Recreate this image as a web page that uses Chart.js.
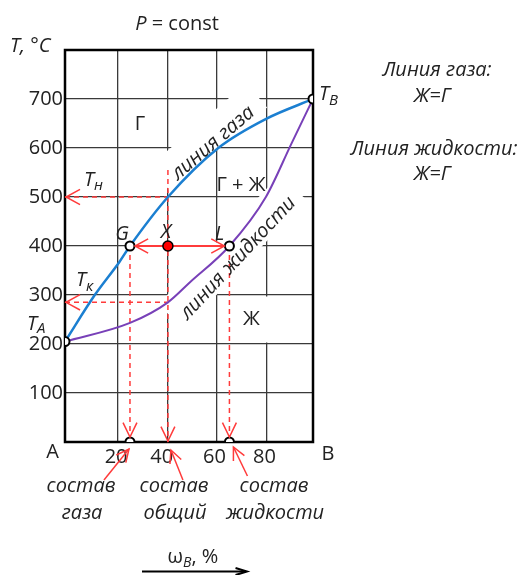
<!DOCTYPE html>
<html>
<head>
<meta charset="utf-8">
<script src="https://cdn.jsdelivr.net/npm/chart.js@4.4.1/dist/chart.umd.min.js"></script>
<style>
  html, body { margin: 0; padding: 0; background: #fff; }
</style>
</head>
<body>
<canvas id="chart" width="527" height="575"></canvas>
<script>
// phase diagram A-B at P = const: composition (% B) vs temperature (°C)
const gasX = [0, 12, 22, 26.2, 41.5, 61.8, 81.3, 100];
const gasT = [205, 300, 368, 400, 500, 600, 660, 700];
const liqX = [0, 26.2, 41.5, 50.4, 66.3, 81, 91.4, 100];
const liqT = [205, 243, 285, 326, 400, 500, 610, 700];

// tie line at T = 400: gas G, overall X, liquid L
const tieT = 400;
const gX = 26.2, xX = 41.5, lX = 66.3;
const tN = 500, tK = 285, tA = 205, tB = 700;

// axes
const yMin = 0, yMax = 800, yStep = 100;
const xGrid = [21.4, 41.5, 61.3, 81.5];
const xTickPos = [20.6, 39, 60.3, 80.4];
const xTickLabels = ['20', '40', '60', '80'];

const RED = '#ff3b3b';
const FONT = "'Open Sans', sans-serif";
Chart.defaults.font.family = FONT;

const pts = (xs, ys) => xs.map((v, i) => ({ x: v, y: ys[i] }));
const dashed = (data) => ({
  data, showLine: true, borderColor: RED, borderWidth: 1.5, borderDash: [5, 4],
  pointRadius: 0, fill: false
});

// slanted labels along the curves
const slanted = [
  { t: 'линия газа', cx: 213, cy: 143, angle: -40.5, w: 128, h: 32, bx: -5, by: -6 },
  { t: 'линия жидкости', cx: 238, cy: 258, angle: -47, w: 178, h: 36, bx: -6, by: -6 }
];

function runs(ctx, parts, x, y, align) {
  const fontOf = p => `${p.it ? 'italic ' : ''}${p.size || 20}px ${FONT}`;
  let w = 0;
  for (const p of parts) { ctx.font = fontOf(p); w += ctx.measureText(p.t).width; }
  let cx = align === 'center' ? x - w / 2 : x;
  for (const p of parts) {
    ctx.font = fontOf(p);
    ctx.fillText(p.t, cx, y + (p.dy || 0));
    cx += ctx.measureText(p.t).width;
  }
}

function head(ctx, tx, ty, fx, fy, len, spread) {
  const a = Math.atan2(ty - fy, tx - fx);
  ctx.beginPath();
  ctx.moveTo(tx - len * Math.cos(a - spread), ty - len * Math.sin(a - spread));
  ctx.lineTo(tx, ty);
  ctx.lineTo(tx - len * Math.cos(a + spread), ty - len * Math.sin(a + spread));
  ctx.stroke();
}

const annot = {
  id: 'annot',
  beforeDatasetsDraw(chart) {
    const { ctx, chartArea: ca, scales: { x, y } } = chart;
    ctx.save();
    ctx.fillStyle = '#fff';
    // white box behind "Ж"
    const l = x.getPixelForValue(xGrid[2]) + 1.5, r = x.getPixelForValue(100) - 1.5;
    const t = y.getPixelForValue(300) + 1.5, b = y.getPixelForValue(200) - 1.5;
    ctx.fillRect(l, t, r - l, b - t);
    for (const s of slanted) {
      ctx.save();
      ctx.translate(s.cx + s.bx, s.cy + s.by);
      ctx.rotate(s.angle * Math.PI / 180);
      ctx.fillRect(-s.w / 2, -s.h / 2, s.w, s.h);
      ctx.restore();
    }
    // plot frame
    ctx.strokeStyle = '#000';
    ctx.lineWidth = 2.5;
    ctx.strokeRect(ca.left, ca.top, ca.right - ca.left, ca.bottom - ca.top);
    ctx.restore();
  },
  afterDatasetsDraw(chart) {
    const { ctx, scales: { x, y } } = chart;
    const px = v => x.getPixelForValue(v), py = v => y.getPixelForValue(v);
    ctx.save();
    ctx.setLineDash([]);
    ctx.strokeStyle = RED;
    ctx.lineWidth = 1.5;
    // arrowheads on dashed / tie lines
    head(ctx, px(0) + 1, py(tN), px(0) + 20, py(tN), 16, 0.5);
    head(ctx, px(0) + 1, py(tK), px(0) + 20, py(tK), 16, 0.5);
    head(ctx, px(gX), py(0) - 5, px(gX), py(0) - 30, 16, 0.45);
    head(ctx, px(xX), py(0) - 1, px(xX), py(0) - 30, 16, 0.45);
    head(ctx, px(lX), py(0) - 5, px(lX), py(0) - 30, 16, 0.45);
    head(ctx, px(gX) + 5, py(tieT), px(xX), py(tieT), 15, 0.5);
    head(ctx, px(lX) - 5, py(tieT), px(xX), py(tieT), 15, 0.5);
    // arrows from composition captions
    const caps = [[px(gX) - 1, py(0) + 7, -25, 31], [px(xX) + 3, py(0) + 8, 12, 30], [px(lX) + 4, py(0) + 5, 14, 29]];
    for (const [tx, ty, dx, dy] of caps) {
      ctx.beginPath(); ctx.moveTo(tx + dx, ty + dy); ctx.lineTo(tx, ty); ctx.stroke();
      head(ctx, tx, ty, tx + dx, ty + dy, 14, 0.45);
    }

    // texts
    ctx.fillStyle = '#222';
    ctx.textAlign = 'left';
    ctx.textBaseline = 'alphabetic';
    runs(ctx, [{ t: 'P', it: true }, { t: ' = const' }], 177, 30, 'center');
    runs(ctx, [{ t: 'T, °C', it: true }], 10, 52);
    runs(ctx, [{ t: 'Линия газа:', it: true }], 437, 76, 'center');
    runs(ctx, [{ t: 'Ж=Г', it: true }], 432, 102, 'center');
    runs(ctx, [{ t: 'Линия жидкости:', it: true }], 434, 155, 'center');
    runs(ctx, [{ t: 'Ж=Г', it: true }], 432, 180, 'center');

    runs(ctx, [{ t: 'Г' }], 140, 130, 'center');
    runs(ctx, [{ t: 'Г + Ж' }], 241, 191, 'center');
    runs(ctx, [{ t: 'Ж' }], 251.5, 325, 'center');

    runs(ctx, [{ t: 'G', it: true }], px(gX) - 8, py(tieT) - 6, 'center');
    runs(ctx, [{ t: 'X', it: true }], px(xX) - 2, py(tieT) - 8, 'center');
    runs(ctx, [{ t: 'L', it: true }], px(lX) - 10, py(tieT) - 6, 'center');

    runs(ctx, [{ t: 'T', it: true }, { t: 'н', it: true, size: 15, dy: 4 }], 84, py(tN) - 11);
    runs(ctx, [{ t: 'T', it: true }, { t: 'к', it: true, size: 15, dy: 5 }], 76, py(tK) - 16);
    runs(ctx, [{ t: 'T', it: true }, { t: 'A', it: true, size: 15, dy: 3 }], 27, py(tA) - 12);
    runs(ctx, [{ t: 'T', it: true }, { t: 'B', it: true, size: 15, dy: 5 }], 319, py(tB) + 1);

    runs(ctx, [{ t: 'A' }], 52.5, 458, 'center');
    runs(ctx, [{ t: 'B' }], 328, 460, 'center');

    const capText = [['состав', 'газа', 81], ['состав', 'общий', 174], ['состав', 'жидкости', 274]];
    for (const [a, b, cx] of capText) {
      runs(ctx, [{ t: a, it: true }], cx, 492, 'center');
      runs(ctx, [{ t: b, it: true }], cx + 1, 519, 'center');
    }

    runs(ctx, [{ t: 'ω' }, { t: 'B', it: true, size: 14, dy: 4 }, { t: ', %' }], 193, 563, 'center');
    ctx.strokeStyle = '#000';
    ctx.lineWidth = 2;
    ctx.beginPath(); ctx.moveTo(142, 571.5); ctx.lineTo(246, 571.5); ctx.stroke();
    head(ctx, 247, 571.5, 230, 571.5, 12, 0.3);
    ctx.restore();

    // slanted curve labels
    ctx.save();
    ctx.fillStyle = '#222';
    ctx.textAlign = 'center';
    ctx.textBaseline = 'middle';
    ctx.font = `italic 20px ${FONT}`;
    for (const s of slanted) {
      ctx.save();
      ctx.translate(s.cx, s.cy);
      ctx.rotate(s.angle * Math.PI / 180);
      ctx.fillText(s.t, 0, 0);
      ctx.restore();
    }
    ctx.restore();
  }
};

new Chart(document.getElementById('chart'), {
  type: 'scatter',
  data: {
    datasets: [
      { // X point
        data: [{ x: xX, y: tieT }], pointRadius: 5, pointBackgroundColor: '#ff0000',
        pointBorderColor: '#000', pointBorderWidth: 1.5
      },
      { // open circles
        data: [{ x: 0, y: tA }, { x: 100, y: tB }, { x: gX, y: tieT }, { x: lX, y: tieT },
               { x: gX, y: 0 }, { x: lX, y: 0 }],
        pointRadius: 4.5, pointBackgroundColor: '#fff', pointBorderColor: '#000', pointBorderWidth: 2
      },
      { // tie line
        data: [{ x: gX, y: tieT }, { x: lX, y: tieT }], showLine: true,
        borderColor: RED, borderWidth: 2, pointRadius: 0
      },
      { // gas line
        data: pts(gasX, gasT), showLine: true, borderColor: '#1b7fd1', borderWidth: 2.5,
        pointRadius: 0, cubicInterpolationMode: 'monotone'
      },
      { // liquid line
        data: pts(liqX, liqT), showLine: true, borderColor: '#7840b8', borderWidth: 2,
        pointRadius: 0, cubicInterpolationMode: 'monotone'
      },
      dashed([{ x: 0, y: tN }, { x: xX, y: tN }]),
      dashed([{ x: 0, y: tK }, { x: xX, y: tK }]),
      dashed([{ x: xX, y: tN + 55 }, { x: xX, y: 0 }]),
      dashed([{ x: gX, y: tieT }, { x: gX, y: 0 }]),
      dashed([{ x: lX, y: tieT }, { x: lX, y: 0 }])
    ]
  },
  options: {
    responsive: false,
    animation: false,
    layout: { padding: { left: 0, right: 214, top: 50, bottom: 103 } },
    plugins: { legend: { display: false }, tooltip: { enabled: false } },
    scales: {
      x: {
        type: 'linear', min: 0, max: 100, position: 'bottom',
        afterBuildTicks: axis => { axis.ticks = xGrid.map(v => ({ value: v })); },
        afterFit: axis => { axis.height = 0; },
        ticks: { display: false },
        grid: { color: '#3a3a3a', lineWidth: 1.3, drawTicks: false },
        border: { display: false }
      },
      x2: {
        type: 'linear', min: 0, max: 100, position: 'bottom',
        afterBuildTicks: axis => { axis.ticks = xTickPos.map(v => ({ value: v })); },
        afterFit: axis => { axis.height = 30; },
        ticks: {
          callback: (v, i) => xTickLabels[i], color: '#222', padding: 3,
          font: { size: 20 }, maxRotation: 0, autoSkip: false
        },
        grid: { display: false, drawTicks: false },
        border: { display: false }
      },
      y: {
        type: 'linear', min: yMin, max: yMax,
        afterFit: axis => { axis.width = 65; },
        ticks: {
          stepSize: yStep, color: '#222', padding: 2, font: { size: 20 },
          callback: v => (v === yMin || v === yMax) ? '' : v
        },
        grid: { color: '#3a3a3a', lineWidth: 1.3, drawTicks: false },
        border: { display: false }
      }
    }
  },
  plugins: [annot]
});
</script>
</body>
</html>
